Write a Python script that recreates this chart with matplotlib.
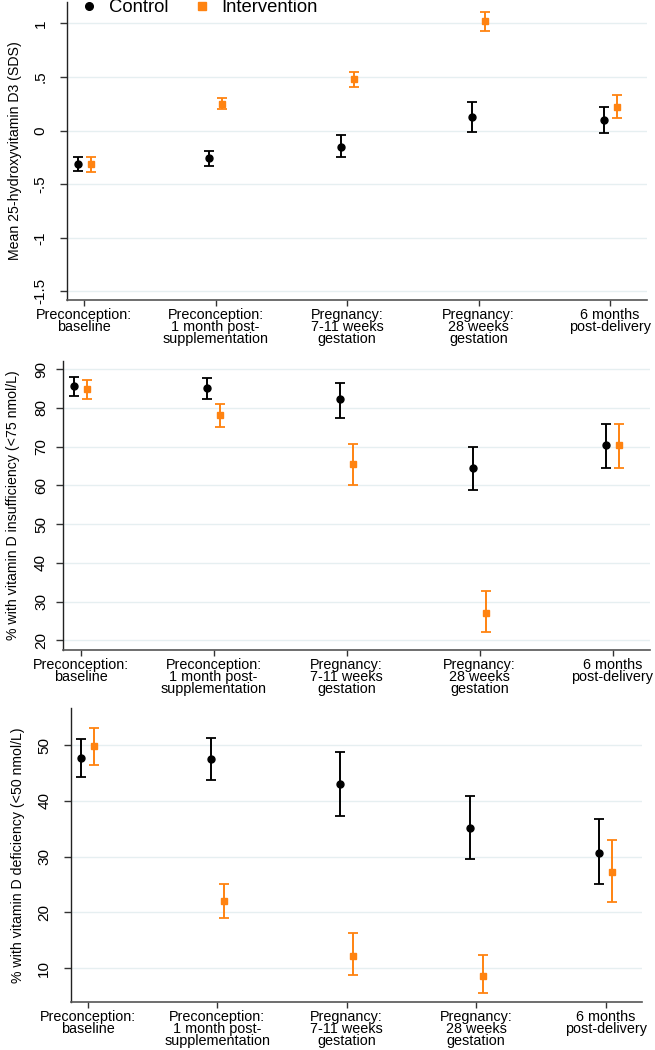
import matplotlib
matplotlib.use("Agg")
import matplotlib.pyplot as plt
from matplotlib.lines import Line2D
import numpy as np

plt.rcParams['font.family'] = ['Liberation Sans', 'DejaVu Sans']

categories = ["Preconception:\nbaseline",
              "Preconception:\n1 month post-\nsupplementation",
              "Pregnancy:\n7-11 weeks\ngestation",
              "Pregnancy:\n28 weeks\ngestation",
              "6 months\npost-delivery"]

# Panel 1: mean 25-hydroxyvitamin D3 SDS
sds_ctrl = [-0.31, -0.26, -0.15, 0.13, 0.10]
sds_ctrl_lo = [-0.38, -0.33, -0.25, -0.01, -0.025]
sds_ctrl_hi = [-0.25, -0.19, -0.045, 0.27, 0.22]
sds_int = [-0.31, 0.25, 0.48, 1.02, 0.225]
sds_int_lo = [-0.39, 0.20, 0.41, 0.93, 0.12]
sds_int_hi = [-0.25, 0.30, 0.55, 1.11, 0.33]

# Panel 2: % insufficiency (<75 nmol/L)
ins_ctrl = [85.7, 85.1, 82.3, 64.5, 70.4]
ins_ctrl_lo = [83.1, 82.3, 77.5, 58.7, 64.5]
ins_ctrl_hi = [87.9, 87.6, 86.4, 70.0, 75.9]
ins_int = [85.0, 78.1, 65.5, 27.1, 70.4]
ins_int_lo = [82.4, 75.0, 60.2, 22.2, 64.5]
ins_int_hi = [87.2, 81.0, 70.7, 32.7, 75.9]

# Panel 3: % deficiency (<50 nmol/L)
def_ctrl = [47.7, 47.5, 43.0, 35.1, 30.7]
def_ctrl_lo = [44.3, 43.8, 37.3, 29.5, 25.1]
def_ctrl_hi = [51.1, 51.3, 48.7, 40.9, 36.8]
def_int = [49.8, 22.0, 12.2, 8.5, 27.2]
def_int_lo = [46.4, 19.0, 8.8, 5.6, 21.9]
def_int_hi = [53.1, 25.1, 16.2, 12.3, 33.0]

yticks1 = [1, 0.5, 0, -0.5, -1, -1.5]
yticklabels1 = ["1", ".5", "0", "-.5", "-1", "-1.5"]
yticks2 = [20, 30, 40, 50, 60, 70, 80, 90]
yticks3 = [10, 20, 30, 40, 50]

ORANGE = '#ff8311'
BLACK = '#000000'
GRID = '#e6eff1'

fig = plt.figure(figsize=(6.55, 10.5), dpi=100)

panels = [
    dict(rect=[0.1023, 0.7143, 0.8855, 0.2838], ylim=(-1.58, 1.2),
         yt=yticks1, ytl=yticklabels1, ylabel="Mean 25-hydroxyvitamin D3 (SDS)",
         c=(sds_ctrl, sds_ctrl_lo, sds_ctrl_hi), i=(sds_int, sds_int_lo, sds_int_hi),
         ypad=9, lpad=8),
    dict(rect=[0.0966, 0.381, 0.8954, 0.2755], ylim=(17.5, 92.2),
         yt=yticks2, ytl=[str(v) for v in yticks2],
         ylabel="% with vitamin D insufficiency (<75 nmol/L)",
         c=(ins_ctrl, ins_ctrl_lo, ins_ctrl_hi), i=(ins_int, ins_int_lo, ins_int_hi),
         ypad=6, lpad=10),
    dict(rect=[0.108, 0.0457, 0.872, 0.2797], ylim=(3.9, 56.6),
         yt=yticks3, ytl=[str(v) for v in yticks3],
         ylabel="% with vitamin D deficiency (<50 nmol/L)",
         c=(def_ctrl, def_ctrl_lo, def_ctrl_hi), i=(def_int, def_int_lo, def_int_hi),
         ypad=9, lpad=9),
]

x = np.arange(1, len(categories) + 1)
off = 0.05
axes = []
for p in panels:
    ax = fig.add_axes(p['rect'])
    axes.append(ax)
    for (vals, lo, hi), dx, col, mk, ms in [(p['c'], -off, BLACK, 'o', 5.0),
                                            (p['i'], off, ORANGE, 's', 4.8)]:
        vals = np.array(vals); lo = np.array(lo); hi = np.array(hi)
        ax.errorbar(x + dx, vals, yerr=[vals - lo, hi - vals], fmt=mk, color=col,
                    ecolor=col, markersize=ms, capsize=3.6, elinewidth=1.4,
                    capthick=1.3, zorder=3)
    ax.set_xlim(0.87, 5.28)
    ax.set_ylim(*p['ylim'])
    ax.set_xticks(x)
    ax.set_xticklabels(categories, fontsize=10.4, linespacing=0.8)
    ax.set_yticks(p['yt'])
    ax.set_yticklabels(p['ytl'], fontsize=11, rotation=90, va='center')
    ax.set_ylabel(p['ylabel'], fontsize=10.2, labelpad=p['lpad'])
    ax.yaxis.grid(True, color=GRID, linewidth=1.0)
    ax.set_axisbelow(True)
    for s in ['top', 'right']:
        ax.spines[s].set_visible(False)
    ax.spines['left'].set_color('#222222')
    ax.spines['bottom'].set_color('#555555')
    ax.spines['left'].set_linewidth(1.0)
    ax.spines['bottom'].set_linewidth(1.2)
    ax.tick_params(axis='x', length=4, width=1.0, color='#333333', pad=2)
    ax.tick_params(axis='y', length=5, width=1.0, color='#333333', pad=p['ypad'])

handles = [Line2D([], [], marker='o', color=BLACK, linestyle='none', markersize=5.5),
           Line2D([], [], marker='s', color=ORANGE, linestyle='none', markersize=5.5)]
fig.legend(handles, ["Control", "Intervention"], loc='center left',
           bbox_to_anchor=(0.128, 0.9925), ncol=2, frameon=False, fontsize=13.3,
           handlelength=0.6, handletextpad=0.75, columnspacing=1.5, borderpad=0,
           borderaxespad=0)

fig.savefig("out.png", dpi=100)
